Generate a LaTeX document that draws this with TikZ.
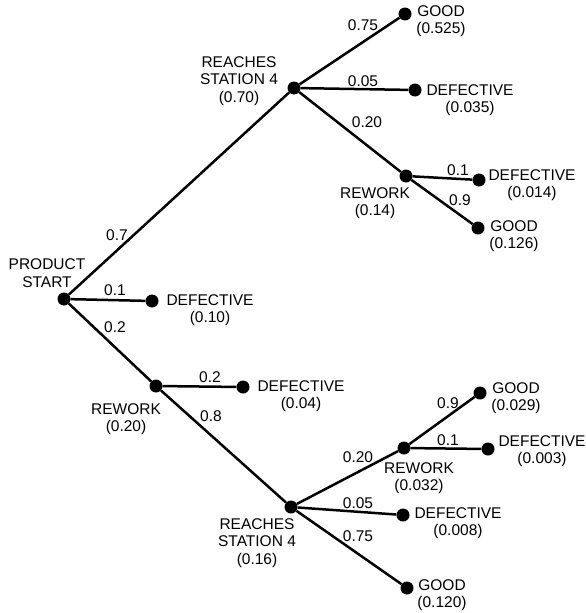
\documentclass[tikz,border=0pt]{standalone}
\usepackage{fontspec}
\setmainfont{Liberation Sans}
\begin{document}
\begin{tikzpicture}[x=1pt,y=-1pt,
  dot/.style={circle,fill=black,inner sep=0pt,minimum size=13pt},
  branch/.style={line width=2.5pt},
  txt/.style={align=center,inner sep=0pt,font=\fontsize{15.5}{17.5}\selectfont},
  prob/.style={inner sep=0pt,font=\fontsize{15.5}{17.5}\selectfont}]
\useasboundingbox (0,0) rectangle (586,613);
% dots
\node[dot] (s) at (64,299) {};
\node[dot] (r4a) at (294,88) {};
\node[dot] (g1) at (405,14) {};
\node[dot] (d1) at (415,90) {};
\node[dot] (rw1) at (406,176) {};
\node[dot] (d2) at (479,180) {};
\node[dot] (g2) at (478,228) {};
\node[dot] (d0) at (152,301) {};
\node[dot] (rw0) at (156,386) {};
\node[dot] (d00) at (243,387) {};
\node[dot] (r4b) at (291,507) {};
\node[dot] (rw2) at (404,448) {};
\node[dot] (g3) at (480,393) {};
\node[dot] (d3) at (488,449) {};
\node[dot] (d4) at (403,515) {};
\node[dot] (g4) at (407,588) {};
% branches
\draw[branch] (s) -- (r4a);
\draw[branch] (s) -- (d0);
\draw[branch] (s) -- (rw0);
\draw[branch] (r4a) -- (g1);
\draw[branch] (r4a) -- (d1);
\draw[branch] (r4a) -- (rw1);
\draw[branch] (rw1) -- (d2);
\draw[branch] (rw1) -- (g2);
\draw[branch] (rw0) -- (d00);
\draw[branch] (rw0) -- (r4b);
\draw[branch] (r4b) -- (rw2);
\draw[branch] (r4b) -- (d4);
\draw[branch] (r4b) -- (g4);
\draw[branch] (rw2) -- (g3);
\draw[branch] (rw2) -- (d3);
% state labels
\node[txt] (ts) at (47,273) {PRODUCT\\START};
\node[txt] (tr4a) at (239,81) {REACHES\\STATION 4\\(0.70)};
\node[txt] (tg1) at (441,21) {GOOD\\(0.525)};
\node[txt] (td1) at (470,100) {DEFECTIVE\\(0.035)};
\node[txt] (trw1) at (375,203) {REWORK\\(0.14)};
\node[txt] (td2) at (532,185) {DEFECTIVE\\(0.014)};
\node[txt] (tg2) at (514,236) {GOOD\\(0.126)};
\node[txt] (td0) at (210,310) {DEFECTIVE\\(0.10)};
\node[txt] (trw0) at (126,419) {REWORK\\(0.20)};
\node[txt] (td00) at (301,396) {DEFECTIVE\\(0.04)};
\node[txt] (tr4b) at (257,543) {REACHES\\STATION 4\\(0.16)};
\node[txt] (trw2) at (419,478) {REWORK\\(0.032)};
\node[txt] (tg3) at (516,398) {GOOD\\(0.029)};
\node[txt] (td3) at (542,451) {DEFECTIVE\\(0.003)};
\node[txt] (td4) at (458,523) {DEFECTIVE\\(0.008)};
\node[txt] (tg4) at (442,595) {GOOD\\(0.120)};
% branch probabilities
\node[prob] (p1) at (117,235) {0.7};
\node[prob] (p2) at (115,290) {0.1};
\node[prob] (p3) at (115,327) {0.2};
\node[prob] (p4) at (363,25) {0.75};
\node[prob] (p5) at (363,81) {0.05};
\node[prob] (p6) at (367,122) {0.20};
\node[prob] (p7) at (458,170) {0.1};
\node[prob] (p8) at (460,200) {0.9};
\node[prob] (p9) at (210,377) {0.2};
\node[prob] (p10) at (211,416) {0.8};
\node[prob] (p11) at (358,457) {0.20};
\node[prob] (p12) at (448,403) {0.9};
\node[prob] (p13) at (448,440) {0.1};
\node[prob] (p14) at (358,503) {0.05};
\node[prob] (p15) at (358,536) {0.75};
\end{tikzpicture}
\end{document}
